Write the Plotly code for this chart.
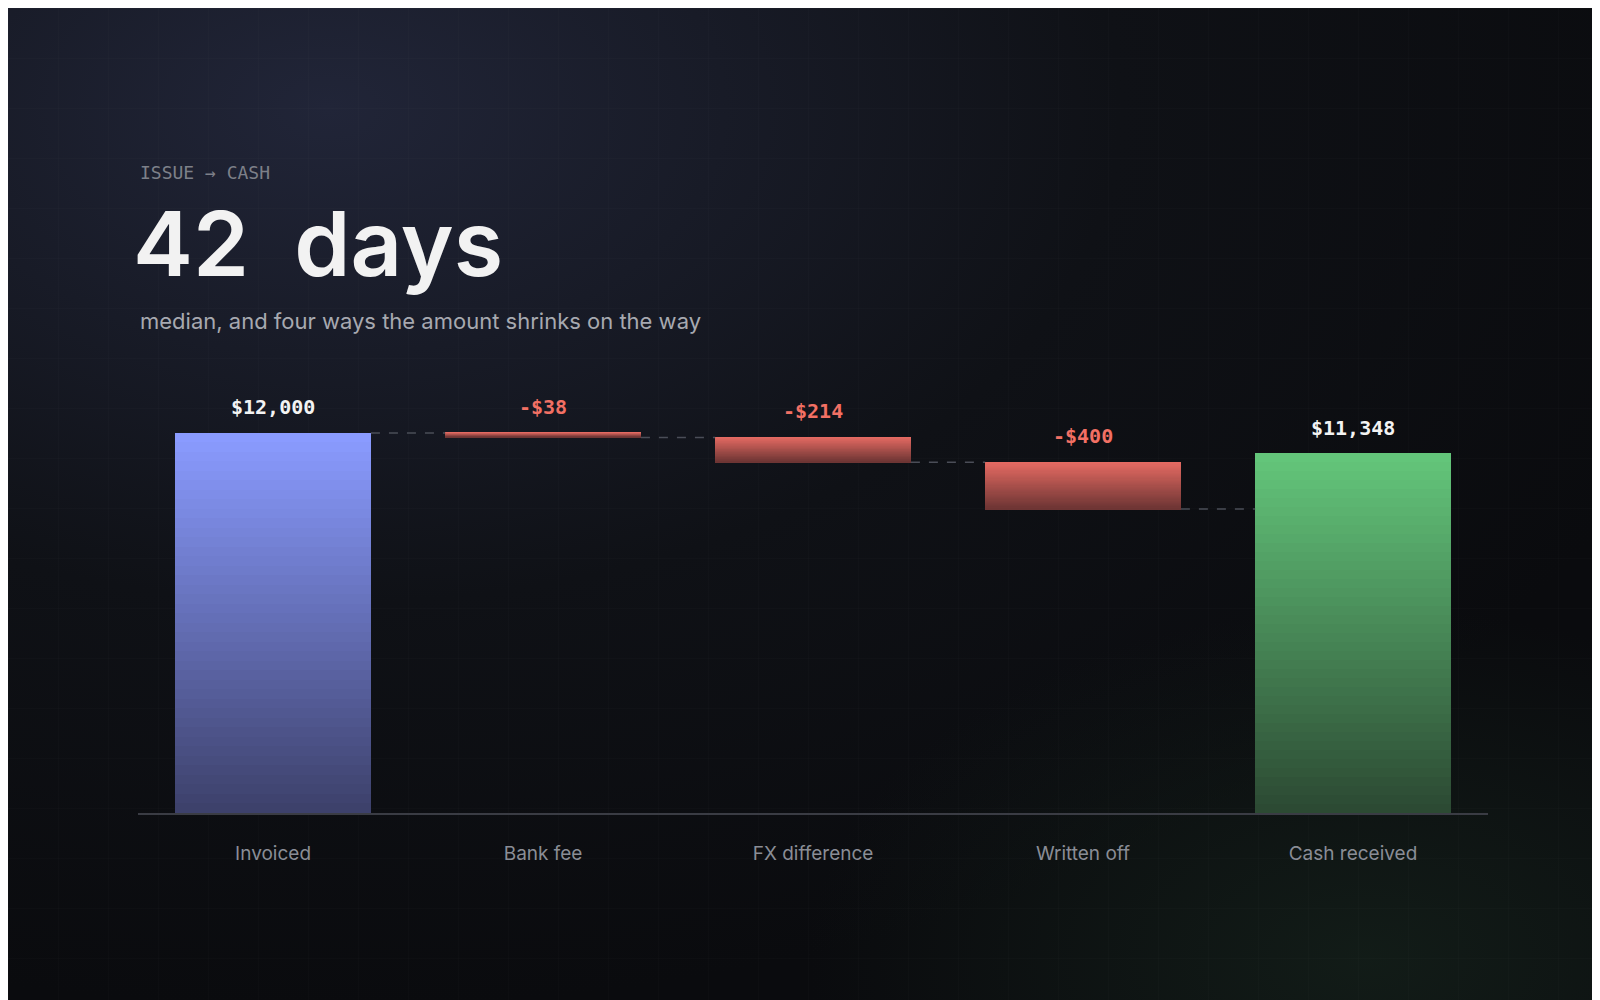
import plotly.graph_objects as go

categories = ["Invoiced", "Bank fee", "FX difference", "Written off", "Cash received"]
amounts = [12000, -38, -214, -400, 11348]
value_labels = ["$12,000", "-$38", "-$214", "-$400", "$11,348"]

# colour stops (top, bottom) per bar
grad = {
    "total": ("#8a9bff", "#3d416b"),
    "neg": ("#e46a62", "#6e3534"),
    "end": ("#63c57a", "#2c4a33"),
}

def mix(c1, c2, t):
    a = [int(c1[i:i + 2], 16) for i in (1, 3, 5)]
    b = [int(c2[i:i + 2], 16) for i in (1, 3, 5)]
    return "rgb(%d,%d,%d)" % tuple(round(a[k] + (b[k] - a[k]) * t) for k in range(3))

bg_svg = (
    "data:image/svg+xml;utf8,<svg xmlns='http://www.w3.org/2000/svg' width='1600' height='1000'>"
    "<defs><radialGradient id='g' cx='0.2' cy='0.1' r='0.9'>"
    "<stop offset='0' stop-color='%23212538'/><stop offset='0.55' stop-color='%230f1116'/>"
    "<stop offset='1' stop-color='%230a0b0e'/></radialGradient>"
    "<radialGradient id='h' cx='0.85' cy='0.95' r='0.35'>"
    "<stop offset='0' stop-color='%2314201a' stop-opacity='0.8'/><stop offset='1' stop-color='%2314201a' stop-opacity='0'/></radialGradient>"
    "<pattern id='p' width='50' height='50' patternUnits='userSpaceOnUse'>"
    "<path d='M50 0 L0 0 0 50' fill='none' stroke='%23ffffff' stroke-opacity='0.025' stroke-width='1'/></pattern></defs>"
    "<rect width='1600' height='1000' fill='url(%23g)'/><rect width='1600' height='1000' fill='url(%23h)'/>"
    "<rect width='1600' height='1000' fill='url(%23p)'/></svg>"
)

fig = go.Figure()

# main scale (totals) and a zoomed scale for the small deductions
Y1 = [0, 14368]
Y2 = [8741, 12643]
N = 40
running = amounts[0]
tops = []
for i, (cat, amt) in enumerate(zip(categories, amounts)):
    if i == 0 or i == len(amounts) - 1:
        lo, hi, axis = 0, amt, "y"
        c = grad["total"] if i == 0 else grad["end"]
    else:
        hi = running
        lo = running + amt
        running = lo
        axis = "y2"
        c = grad["neg"]
    tops.append((hi, lo, axis))
    step = (hi - lo) / N
    for k in range(N):
        fig.add_trace(go.Bar(
            x=[i], y=[step * 1.02], base=[hi - step * (k + 1)],
            width=0.725, marker=dict(color=mix(c[0], c[1], k / (N - 1)), line=dict(width=0)),
            yaxis=axis, showlegend=False, hoverinfo="skip",
        ))

# dashed connectors
for i in range(len(amounts) - 1):
    y_level = tops[i][1] if i > 0 else tops[0][0]
    fig.add_shape(type="line", x0=i + 0.3625, x1=i + 1 - 0.3625, y0=y_level, y1=y_level,
                  xref="x", yref="y2", line=dict(color="#4a4d57", width=1.5, dash="dash"))

# value labels
for i, (hi, lo, axis) in enumerate(tops):
    col = "#f27064" if amounts[i] < 0 else "#f3f3f3"
    fig.add_annotation(x=i, y=hi, yref=axis, text="<b>%s</b>" % value_labels[i], showarrow=False,
                       yanchor="bottom", yshift=12,
                       font=dict(family="DejaVu Sans Mono", size=20, color=col))

fig.add_annotation(xref="paper", yref="paper", x=0.0813, y=0.836, xanchor="left", yanchor="middle",
                   text="ISSUE → CASH", showarrow=False,
                   font=dict(family="DejaVu Sans Mono", size=18, color="#7d8089"))
fig.add_annotation(xref="paper", yref="paper", x=0.077, y=0.765, xanchor="left", yanchor="middle",
                   text="42  days", showarrow=False,
                   font=dict(family="Inter", size=90, color="#f2f2f2", weight=600))
fig.add_annotation(xref="paper", yref="paper", x=0.0813, y=0.687, xanchor="left", yanchor="middle",
                   text="median, and four ways the amount shrinks on the way", showarrow=False,
                   font=dict(family="Inter", size=22, color="#a7a9b0"))

fig.update_layout(
    width=1600, height=1000, barmode="overlay", bargap=0,
    margin=dict(l=0, r=0, t=0, b=0),
    paper_bgcolor="#0b0c10", plot_bgcolor="rgba(0,0,0,0)",
    images=[dict(source=bg_svg, xref="paper", yref="paper", x=0, y=1, sizex=1, sizey=1,
                 sizing="stretch", layer="below")],
    xaxis=dict(domain=[0.0813, 0.925], range=[-0.5, 4.5], tickmode="array",
               tickvals=list(range(5)), ticktext=categories, showgrid=False, zeroline=False,
               showline=True, linecolor="#3a3c44", linewidth=2, ticks="", ticklen=0,
               ticklabelstandoff=22,
               tickfont=dict(family="Inter", size=19, color="#8a8d96")),
    yaxis=dict(domain=[0.195, 0.65], range=Y1, visible=False),
    yaxis2=dict(domain=[0.195, 0.65], range=Y2, overlaying="y", visible=False),
)

fig.write_html("out.html")
